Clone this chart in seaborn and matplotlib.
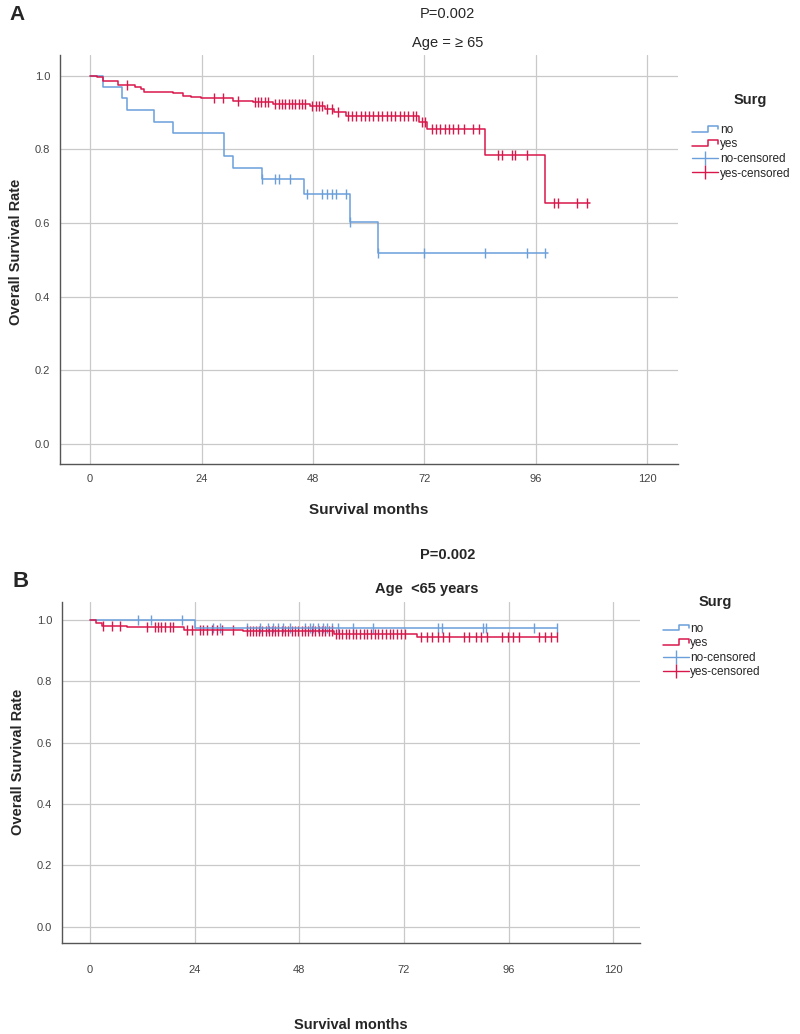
import numpy as np
import pandas as pd
import matplotlib
matplotlib.use("Agg")
import matplotlib.pyplot as plt
import seaborn as sns
from matplotlib.lines import Line2D
from matplotlib.legend_handler import HandlerBase

# ---- Panel A: Age >= 65 ----
a_no_t = [0, 2.7, 6.8, 7.9, 13.8, 17.9, 28.9, 30.8, 37.0, 46.0, 56.0, 62.0]
a_no_s = [1.0, 0.969, 0.938, 0.906, 0.875, 0.844, 0.781, 0.750, 0.719, 0.680, 0.604, 0.519]
a_no_end = 98.7
a_no_cens = [37.0, 39.9, 40.6, 43.0, 46.7, 49.9, 51.0, 52.1, 53.0, 55.2, 56.0,
             62.0, 72.0, 85.0, 94.1, 98.1]

a_yes_t = [0, 1.4, 2.7, 6.0, 9.6, 10.9, 11.5, 17.9, 20.1, 21.8, 23.9, 30.8, 35.0,
           39.4, 47.4, 50.7, 52.5, 55.2, 70.8, 72.6, 85.0, 98.1]
a_yes_s = [1.0, 0.995, 0.985, 0.975, 0.970, 0.964, 0.955, 0.952, 0.946, 0.941, 0.939,
           0.932, 0.928, 0.923, 0.918, 0.909, 0.900, 0.891, 0.875, 0.854, 0.785, 0.653]
a_yes_end = 107.8
a_yes_cens = [7.9, 26.6, 28.7, 31.9, 35.6, 36.2, 36.9, 37.6, 38.3, 39.9, 40.6, 41.3,
              42.0, 42.8, 43.5, 44.2, 45.0, 45.7, 46.4, 47.9, 48.6, 49.3, 50.0, 51.1,
              52.2, 53.5, 55.6, 56.5, 57.4, 58.3, 59.2, 60.1, 61.0, 62.0, 62.9, 63.9,
              64.8, 65.8, 66.7, 67.6, 68.6, 69.5, 70.3, 71.5, 72.2, 73.6, 74.5, 75.5,
              76.4, 77.4, 78.3, 79.3, 80.5, 82.6, 83.8, 88.0, 88.7, 90.9, 91.6, 94.1,
              100.0, 100.9, 105.0, 107.0]

# ---- Panel B: Age < 65 ----
b_no_t = [0, 24.1]
b_no_s = [1.0, 0.975]
b_no_end = 107.0
b_no_cens = [11.1, 14.1, 21.0, 28.2, 29.8, 36.0, 39.0, 40.8, 42.0, 43.1, 44.3, 45.9,
             49.3, 50.5, 51.2, 52.3, 53.4, 54.4, 55.5, 56.9, 60.3, 64.9, 79.9, 80.7,
             90.2, 90.8, 101.8, 107.0]

b_yes_t = [0, 1.5, 2.7, 8.5, 21.5, 35.0, 56.0, 75.0]
b_yes_s = [1.0, 0.99, 0.982, 0.976, 0.969, 0.965, 0.955, 0.945]
b_yes_end = 107.0
b_yes_cens = [3.0, 5.0, 6.9, 13.0, 14.9, 15.7, 16.4, 17.2, 18.3, 19.1, 22.2, 23.3,
              25.2, 26.0, 26.8, 27.9, 29.1, 30.2, 32.9, 36.0, 36.6, 37.3, 38.0, 38.8,
              39.5, 40.3, 41.0, 41.8, 42.5, 43.2, 44.0, 44.8, 45.5, 46.3, 47.0, 47.8,
              48.6, 49.3, 50.1, 50.9, 51.6, 52.4, 53.2, 54.0, 54.8, 55.6, 56.4, 57.1,
              57.9, 58.7, 59.5, 60.3, 61.1, 62.0, 62.8, 63.6, 64.5, 65.3, 66.1, 67.0,
              67.8, 68.7, 69.5, 70.4, 71.3, 72.2, 76.0, 77.3, 78.5, 79.8, 81.0, 82.3,
              85.8, 87.0, 88.4, 89.7, 91.0, 94.5, 95.8, 97.0, 98.3, 103.0, 104.3,
              105.7, 107.0]

x_ticks = [0, 24, 48, 72, 96, 120]
y_ticks = [0.0, 0.2, 0.4, 0.6, 0.8, 1.0]
labels = ["no", "yes", "no-censored", "yes-censored"]
c_no = "#6a9fdb"
c_yes = "#d8174a"

sns.set_style("white")
plt.rcParams["font.family"] = ["Liberation Sans", "DejaVu Sans"]


class StepHandler(HandlerBase):
    # little step-shaped line, like the SPSS legend swatch
    def create_artists(self, legend, orig, xd, yd, w, h, fontsize, trans):
        xs = [-xd, -xd + 0.62 * w, -xd + 0.62 * w, -xd + w, -xd + w]
        ys = [-yd + 0.15 * h, -yd + 0.15 * h, -yd + 0.85 * h, -yd + 0.85 * h, -yd + 0.4 * h]
        return [Line2D(xs, ys, color=orig.get_color(), lw=1.1, transform=trans)]


def draw_curve(ax, t, s, end, cens, color):
    df = pd.DataFrame({"month": t + [end], "surv": s + [s[-1]]})
    sns.lineplot(data=df, x="month", y="surv", drawstyle="steps-post", color=color,
                 lw=1.1, estimator=None, ax=ax)
    idx = np.searchsorted(t, cens, side="right") - 1
    lev = np.array(s)[idx]
    sns.scatterplot(x=cens, y=lev, marker="|", s=55, color=color, linewidth=1.0, ax=ax)


def style_axes(ax, xlim, ylim, xpad):
    ax.set_xlim(*xlim)
    ax.set_ylim(*ylim)
    ax.set_xticks(x_ticks)
    ax.set_yticks(y_ticks)
    ax.set_yticklabels([f"{v:.1f}" for v in y_ticks])
    ax.grid(True, color="#c9c9c9", lw=0.9)
    for sp in ["top", "right"]:
        ax.spines[sp].set_visible(False)
    for sp in ["left", "bottom"]:
        ax.spines[sp].set_color("#555555")
        ax.spines[sp].set_linewidth(1.0)
    ax.tick_params(length=0, labelsize=8, labelcolor="#444444")
    ax.tick_params(axis="y", pad=7)
    ax.tick_params(axis="x", pad=xpad)
    ax.set_ylabel("")


def add_legend(ax, fig, x, y):
    handles = [Line2D([], [], color=c_no), Line2D([], [], color=c_yes),
               Line2D([0, 1], [0, 0], color=c_no, marker="|", markersize=10, lw=1.0),
               Line2D([0, 1], [0, 0], color=c_yes, marker="|", markersize=10, lw=1.0)]
    hm = {handles[0]: StepHandler(), handles[1]: StepHandler()}
    ax.legend(handles, labels, handler_map=hm, loc="upper left",
              bbox_to_anchor=(x, y), bbox_transform=fig.transFigure, frameon=False,
              fontsize=8.5, handlelength=2.2, labelspacing=0.22, handletextpad=0.15,
              borderpad=0)


fig = plt.figure(figsize=(8, 10.34), dpi=100)

# Panel A
axA = fig.add_axes([0.075, 0.5513, 0.7725, 0.3955])
draw_curve(axA, a_no_t, a_no_s, a_no_end, a_no_cens, c_no)
draw_curve(axA, a_yes_t, a_yes_s, a_yes_end, a_yes_cens, c_yes)
style_axes(axA, (-6.5, 126.7), (-0.054, 1.056), 7)
axA.set_xlabel("Survival months", fontsize=11, fontweight="bold", labelpad=14)
add_legend(axA, fig, 0.858, 0.886)

fig.text(0.9375, 0.9033, "Surg", fontsize=10.5, fontweight="bold", ha="center", va="center")
fig.text(0.012, 0.986, "A", fontsize=15, fontweight="bold", va="center")
fig.text(0.559, 0.9865, "P=0.002", fontsize=10.5, ha="center", va="center")
fig.text(0.559, 0.958, "Age = \u2265 65", fontsize=10.5, ha="center", va="center")
fig.text(0.02, 0.756, "Overall Survival Rate", rotation=90, fontsize=10.5,
         fontweight="bold", ha="center", va="center")

# Panel B
axB = fig.add_axes([0.0775, 0.088, 0.7225, 0.3298])
draw_curve(axB, b_no_t, b_no_s, b_no_end, b_no_cens, c_no)
draw_curve(axB, b_yes_t, b_yes_s, b_yes_end, b_yes_cens, c_yes)
style_axes(axB, (-6.4, 126.1), (-0.053, 1.0587), 16)
axB.set_xlabel("Survival months", fontsize=10.5, fontweight="bold", labelpad=31)
add_legend(axB, fig, 0.821, 0.4035)

fig.text(0.894, 0.4178, "Surg", fontsize=10.5, fontweight="bold", ha="center", va="center")
fig.text(0.015, 0.438, "B", fontsize=16, fontweight="bold", va="center")
fig.text(0.559, 0.4632, "P=0.002", fontsize=10.5, fontweight="bold", ha="center",
         va="center")
fig.text(0.533, 0.4304, "Age  <65 years", fontsize=10.5, fontweight="bold",
         ha="center", va="center")
fig.text(0.022, 0.263, "Overall Survival Rate", rotation=90, fontsize=10.5,
         fontweight="bold", ha="center", va="center")

fig.savefig("out.png", dpi=100)
